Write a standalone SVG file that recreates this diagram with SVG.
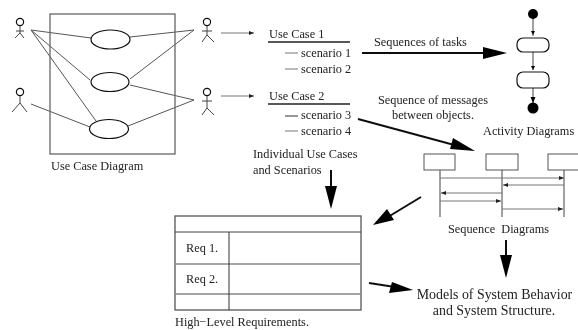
<svg xmlns="http://www.w3.org/2000/svg" width="578" height="330" viewBox="0 0 578 330">
<style>
text{font-family:"Liberation Serif","Times New Roman",serif;font-size:12.3px;fill:#222}
.l{fill:none;stroke:#555;stroke-width:1}
.g{fill:none;stroke:#777;stroke-width:1.2}
.d{fill:none;stroke:#111;stroke-width:1.2}
.a{fill:none;stroke:#444;stroke-width:1}
.b{stroke:#111;stroke-width:2;fill:none}
.h{fill:#000;stroke:none}
.m{text-anchor:middle}
.big{font-size:13.9px}
</style>
<defs>
<filter id="s" x="0" y="0" width="100%" height="100%"><feGaussianBlur stdDeviation="0.5"/></filter>
<marker id="sm" markerUnits="userSpaceOnUse" markerWidth="6" markerHeight="6" refX="5" refY="2.5" orient="auto"><path d="M0 0.5L5 2.5L0 4.5z" fill="#222"/></marker>
</defs>
<rect width="578" height="330" fill="#fff"/>
<g filter="url(#s)">
<g id="connectors">
<path class="l" d="M31 30L91 38M31 30L90 80M31 30L96 121M31 104L90 127M194 30L130 37M194 30L130 79M194 100L130 85M194 100L128 126"/>
<path class="g" d="M221 33H254" marker-end="url(#sm)"/>
<path class="g" d="M221 96H254" marker-end="url(#sm)"/>
<path class="b" d="M362 53H490"/><path class="h" d="M483 47L507 53L483 59z"/>
<path class="b" d="M358 119L458 146"/><path class="h" d="M453 138L475 151L450 149z"/>
<path class="b" d="M331 170V190"/><path class="h" d="M325 186H337L331 209z"/>
<path class="b" d="M421 197L388 217"/><path class="h" d="M387 209L373 225L394 220z"/>
<path class="b" d="M506 240V260"/><path class="h" d="M500 255H512L506 278z"/>
<path class="b" d="M369 283L395 287"/><path class="h" d="M392 282L413 290L389 293z"/>
</g>
<g id="use-case-diagram">
<rect x="50" y="14" width="125" height="140" fill="none" stroke="#666" stroke-width="1.3"/>
<ellipse cx="110.5" cy="39.5" rx="19.5" ry="9.5" fill="#fff" class="d"/>
<ellipse cx="110" cy="82" rx="19" ry="9.5" fill="#fff" class="d"/>
<ellipse cx="109" cy="129" rx="19.5" ry="9.5" fill="#fff" class="d"/>
<text x="51" y="170">Use Case Diagram</text>
</g>
<g id="actor-1"><circle cx="20" cy="22" r="3.6" class="d"/><path class="a" d="M20 26V33M16 31H24M20 33L15 38M20 33L24 38"/></g>
<g id="actor-2"><circle cx="20" cy="92" r="3.6" class="d"/><path class="a" d="M20 96V103M20 103L12 112M20 103L27 112"/></g>
<g id="actor-3"><circle cx="207" cy="22" r="3.6" class="d"/><path class="a" d="M207 26V35M202 31H212M207 35L202 42M207 35L214 42"/></g>
<g id="actor-4"><circle cx="207" cy="92" r="3.6" class="d"/><path class="a" d="M207 96V108M202 101H212M207 108L202 115M207 108L214 115"/></g>
<g id="use-cases">
<text x="269" y="38">Use Case 1</text>
<path d="M268 42H350M268 104H350" stroke="#222" stroke-width="1.3" fill="none"/>
<path d="M285 53H298M285 69H298M285 131H298" stroke="#777" fill="none"/>
<path d="M285 116H298" stroke="#333" fill="none"/>
<text x="301" y="57">scenario 1</text>
<text x="301" y="73">scenario 2</text>
<text x="269" y="100">Use Case 2</text>
<text x="301" y="119">scenario 3</text>
<text x="301" y="135">scenario 4</text>
<text x="253" y="158">Individual Use Cases</text>
<text x="253" y="174">and Scenarios</text>
</g>
<text x="374" y="46">Sequences of tasks</text>
<text class="m" x="433" y="104">Sequence of messages</text>
<text class="m" x="433" y="119">between objects.</text>
<g id="activity-diagram">
<path class="a" d="M533 14V36M533 52V70M533 88V103"/>
<path class="h" d="M531 31H535L533 35zM531 66H535L533 70zM530.500 97H535.500L533 103z"/>
<circle cx="533" cy="14" r="5" fill="#000"/>
<rect x="517" y="38" width="32" height="14" rx="6" fill="#fff" class="d"/>
<rect x="517" y="72" width="32" height="16" rx="6" fill="#fff" class="d"/>
<circle cx="533" cy="108" r="5.5" fill="#000"/>
<text x="483" y="135">Activity Diagrams</text>
</g>
<g id="sequence-diagram">
<rect x="424" y="154" width="31" height="16" fill="#fff" stroke="#555"/>
<rect x="486" y="154" width="32" height="16" fill="#fff" stroke="#555"/>
<rect x="548" y="154" width="32" height="16" fill="#fff" stroke="#555"/>
<path class="a" d="M440 170V217M502 170V217M564 170V217"/>
<path class="g" d="M440 178H564" marker-end="url(#sm)"/>
<path class="g" d="M564 185H503" marker-end="url(#sm)"/>
<path class="g" d="M502 193H441" marker-end="url(#sm)"/>
<path class="g" d="M440 201H501" marker-end="url(#sm)"/>
<path class="g" d="M502 209H563" marker-end="url(#sm)"/>
<text x="448" y="233" xml:space="preserve">Sequence  Diagrams</text>
</g>
<g id="requirements">
<rect x="175" y="216" width="186" height="94" fill="none" stroke="#555" stroke-width="1.3"/>
<path d="M175 232H361" stroke="#444" fill="none"/>
<path d="M175 264H361M175 294H361" stroke="#888" stroke-width="1.3" fill="none"/>
<path d="M229 232V310" stroke="#333" fill="none"/>
<text x="186" y="252">Req 1.</text>
<text x="186" y="283">Req 2.</text>
<text x="175" y="326">High−Level Requirements.</text>
</g>
<g id="models">
<text class="m big" x="494.500" y="299">Models of System Behavior</text>
<text class="m big" x="494" y="315">and System Structure.</text>
</g>
</g>
</svg>
